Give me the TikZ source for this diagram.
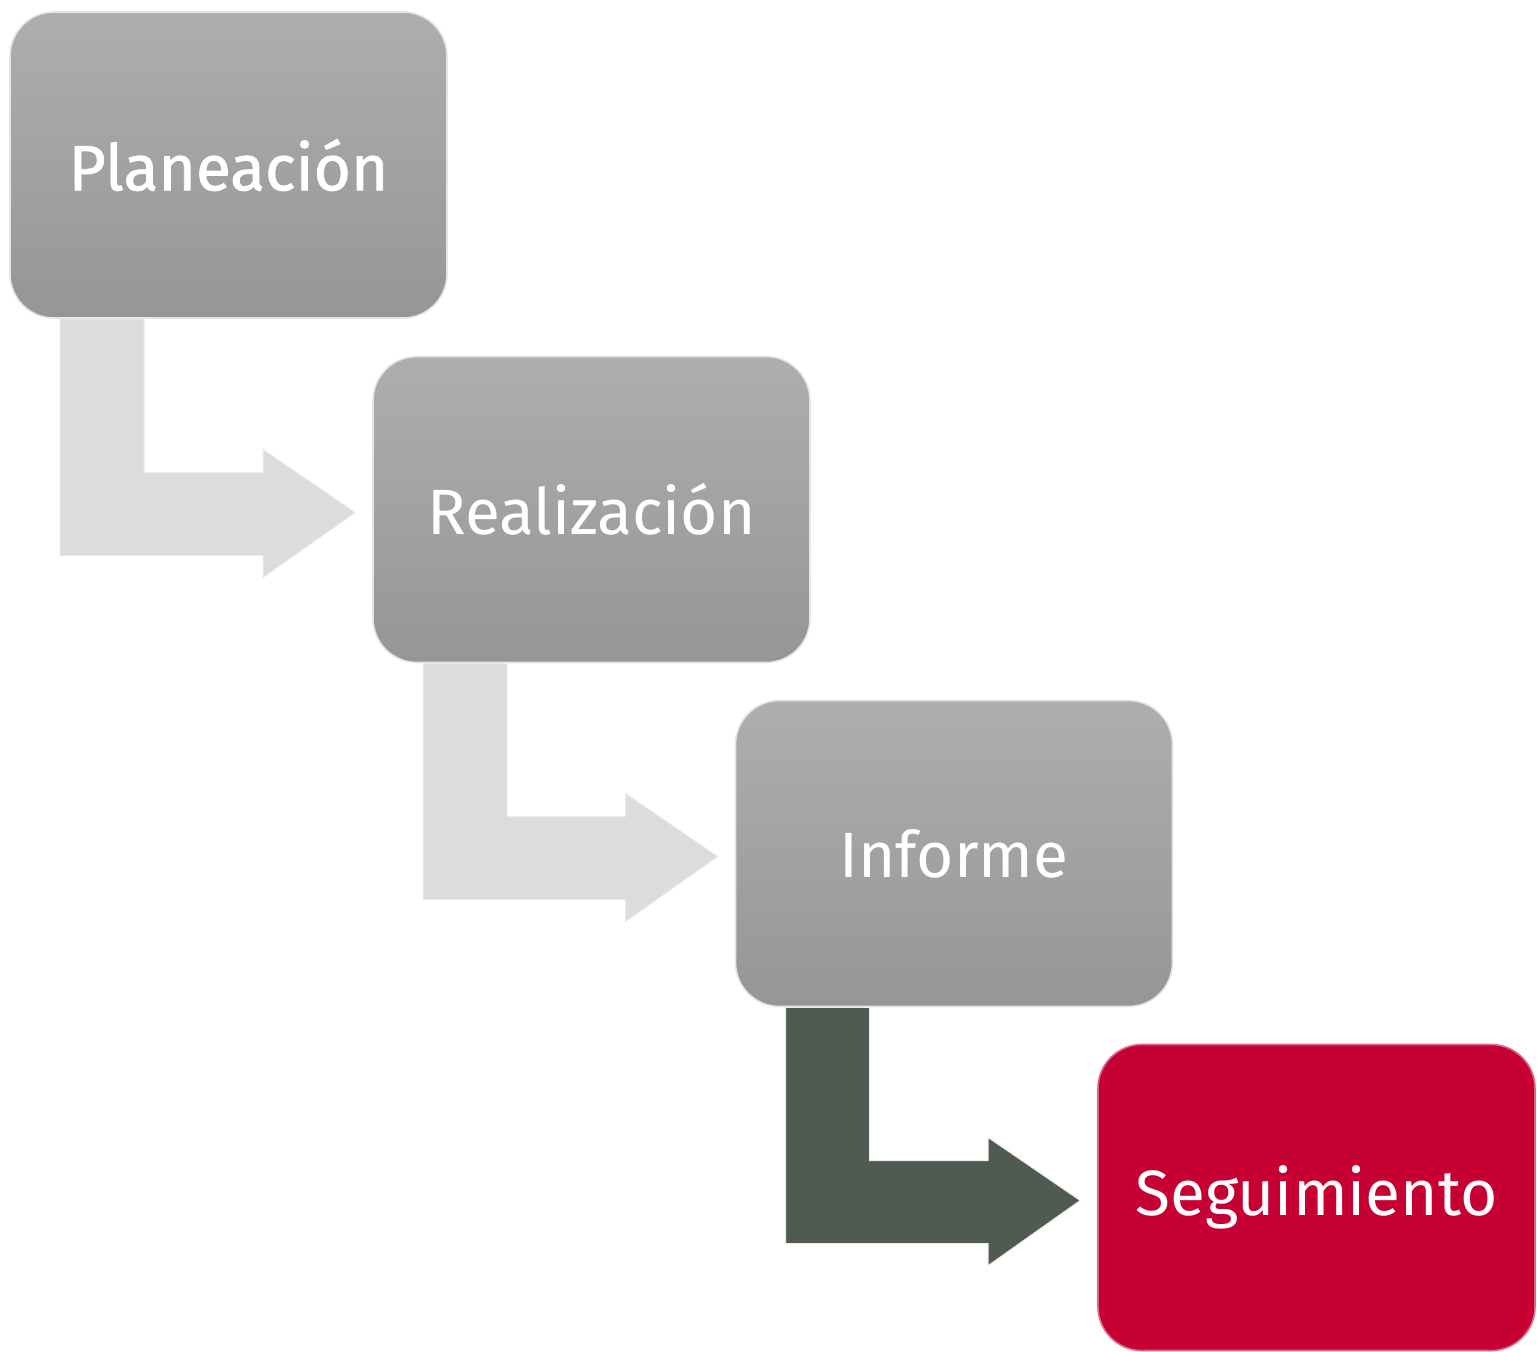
\documentclass[tikz,border=0pt]{standalone}
\usepackage{fontspec}
\setmainfont{Fira Sans}
\usetikzlibrary{calc}

\definecolor{boxtop}{HTML}{AEAEAE}
\definecolor{boxbot}{HTML}{969696}
\definecolor{arrlight}{HTML}{DCDCDC}
\definecolor{arrlightb}{HTML}{CECECE}
\definecolor{arrdark}{HTML}{4F5B51}
\definecolor{segred}{HTML}{C60033}

\tikzset{
  stage/.style={rounded corners=22pt, minimum width=218.5pt, minimum height=153pt,
    top color=boxtop, bottom color=boxbot, draw=white!80!gray, line width=0.8pt,
    text=white, font=\fontsize{32}{36}\selectfont},
  lastst/.style={stage, top color=segred, bottom color=segred, draw=segred!60!white},
  bent/.style={line width=0.5pt, draw=white!85!gray}
}

\begin{document}
\begin{tikzpicture}[x=0.5pt,y=-0.5pt]
\useasboundingbox (0,0) rectangle (1537,1351);

% Stages
\node[stage] (plan) at (228.5,165) {\addfontfeatures{FakeBold=1.2}Planeación};
\node[stage] (real) at (591.5,509.5) {Realización};
\node[stage] (inf) at (954,853.5) {Informe};
\node[lastst] (seg) at (1316.5,1197.5) {Seguimiento};

% Bent arrows between stages
\foreach \a/\b/\c in {plan/real/arrlight, real/inf/arrlight, inf/seg/arrdark}
  \filldraw[bent, fill=\c]
    ($(\a.south west)+(51,0)$) coordinate (s) -- ++(84,0)
    |- ($(\b.west)+(-109,-37)$) -- ++(0,-23)
    -- ($(\b.west)+(-17,3)$) -- ++(-92,65) -- ++(0,-22) -| (s);

\end{tikzpicture}
\end{document}
